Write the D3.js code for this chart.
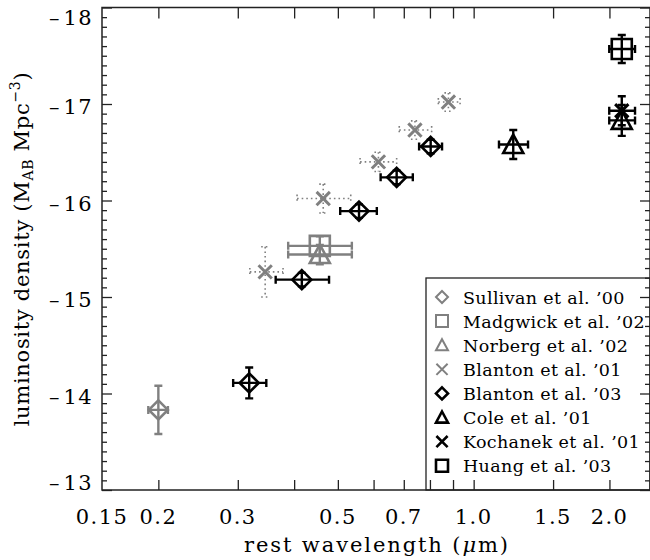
<!DOCTYPE html>
<html><head><meta charset="utf-8">
<script src="https://cdn.jsdelivr.net/npm/d3@7"></script>
<style>body{margin:0;background:#fff} svg{display:block}</style>
</head><body>
<svg id="c" width="650" height="560"></svg>
<script>
// ---------- data ----------
const xTickValues  = [0.2,0.3,0.4,0.5,0.6,0.7,0.8,0.9,1.0,1.5,2.0];
const xLabelValues = [0.15,0.2,0.3,0.5,0.7,1.0,1.5,2.0];
const xLabelTexts  = ["0.15","0.2","0.3","0.5","0.7","1.0","1.5","2.0"];
const yMajorValues = [-18,-17,-16,-15,-14,-13];
const yLabelTexts  = ["18","17","16","15","14","13"];

const sullivanLam = [0.20],  sullivanMag = [-13.83], sullivanLo = [0.19], sullivanHi = [0.21], sullivanErr = [0.25];
const madgwickLam = [0.456], madgwickMag = [-15.53], madgwickLo = [0.388], madgwickHi = [0.537], madgwickErr = [0.10];
const norbergLam  = [0.456], norbergMag  = [-15.44], norbergLo  = [0.388], norbergHi  = [0.537], norbergErr  = [0.10];
const blanton01Lam = [0.345, 0.464, 0.615, 0.741, 0.879];
const blanton01Mag = [-15.26, -16.02, -16.40, -16.73, -17.02];
const blanton01Lo  = [0.319, 0.406, 0.560, 0.684, 0.835];
const blanton01Hi  = [0.378, 0.534, 0.675, 0.807, 0.933];
const blanton01Err = [0.26, 0.15, 0.10, 0.095, 0.095];
const blanton03Lam = [0.318, 0.416, 0.557, 0.675, 0.803];
const blanton03Mag = [-14.11, -15.18, -15.89, -16.24, -16.56];
const blanton03Lo  = [0.293, 0.364, 0.506, 0.622, 0.757];
const blanton03Hi  = [0.347, 0.478, 0.610, 0.733, 0.851];
const blanton03Err = [0.16, 0.07, 0.07, 0.07, 0.07];
const coleLam = [1.224, 2.13], coleMag = [-16.58, -16.83], coleLo = [1.138, 1.998], coleHi = [1.32, 2.279], coleErr = [0.15, 0.16];
const kochanekLam = [2.13], kochanekMag = [-16.93], kochanekLo = [1.998], kochanekHi = [2.279], kochanekErr = [0.15];
const huangLam = [2.13], huangMag = [-17.57], huangLo = [1.998], huangHi = [2.279], huangErr = [0.145];

const legendLabels = ["Sullivan et al. \u201900","Madgwick et al. \u201902","Norberg et al. \u201902","Blanton et al. \u201901",
                      "Blanton et al. \u201903","Cole et al. \u201901","Kochanek et al. \u201901","Huang et al. \u201903"];

// ---------- setup ----------
const GRAY = "#808080", BLACK = "#000";
const FONT = "DejaVu Serif";
const L = 102, R = 650, T = 7.5, B = 490;
const svg = d3.select("#c");
const x = d3.scaleLog().domain([0.15, 2.46]).range([L, R]);
const y = d3.scaleLinear().domain([-18, -13]).range([T, B]);

function zip(lam, mag, lo, hi, err){ return lam.map((l,i)=>({lam:l, mag:mag[i], lo:lo[i], hi:hi[i], err:err[i]})); }

const series = [
  {name:legendLabels[0], d:zip(sullivanLam,sullivanMag,sullivanLo,sullivanHi,sullivanErr), sym:"diamond", color:GRAY, dotted:false},
  {name:legendLabels[1], d:zip(madgwickLam,madgwickMag,madgwickLo,madgwickHi,madgwickErr), sym:"square", color:GRAY, dotted:false},
  {name:legendLabels[2], d:zip(norbergLam,norbergMag,norbergLo,norbergHi,norbergErr), sym:"triangle", color:GRAY, dotted:false},
  {name:legendLabels[3], d:zip(blanton01Lam,blanton01Mag,blanton01Lo,blanton01Hi,blanton01Err), sym:"x", color:GRAY, dotted:true},
  {name:legendLabels[4], d:zip(blanton03Lam,blanton03Mag,blanton03Lo,blanton03Hi,blanton03Err), sym:"diamond", color:BLACK, dotted:false},
  {name:legendLabels[5], d:zip(coleLam,coleMag,coleLo,coleHi,coleErr), sym:"triangle", color:BLACK, dotted:false},
  {name:legendLabels[6], d:zip(kochanekLam,kochanekMag,kochanekLo,kochanekHi,kochanekErr), sym:"x", color:BLACK, dotted:false},
  {name:legendLabels[7], d:zip(huangLam,huangMag,huangLo,huangHi,huangErr), sym:"square", color:BLACK, dotted:false}
];

function symbolPath(sym, s){
  if (sym==="diamond") return `M0,${-s}L${s},0L0,${s}L${-s},0Z`;
  if (sym==="square") return `M${-s},${-s}H${s}V${s}H${-s}Z`;
  if (sym==="triangle") return `M0,${-s}L${s},${s*0.85}L${-s},${s*0.85}Z`;
  if (sym==="x") { const k=s*0.7; return `M${-k},${-k}L${k},${k}M${-k},${k}L${k},${-k}`; }
}
const symSize = {diamond:9.5, square:10, triangle:10, x:9.5};

// ---------- frame & axes ----------
const axG = svg.append("g");
function styleAxis(g){ g.select(".domain").remove(); g.selectAll(".tick line").attr("stroke","#222").attr("stroke-width",1.3); g.selectAll(".tick text").remove(); }
axG.append("g").attr("transform",`translate(0,${B})`).call(d3.axisBottom(x).tickValues(xTickValues).tickSize(-10).tickFormat("")).call(styleAxis);
axG.append("g").attr("transform",`translate(0,${T})`).call(d3.axisTop(x).tickValues(xTickValues).tickSize(-11).tickFormat("")).call(styleAxis);
const yMinor = d3.range(-179,-130,1).map(v=>v/10).filter(v=>!yMajorValues.includes(v));
axG.append("g").attr("transform",`translate(${L},0)`).call(d3.axisLeft(y).tickValues(yMajorValues).tickSize(-10).tickFormat("")).call(styleAxis);
axG.append("g").attr("transform",`translate(${L},0)`).call(d3.axisLeft(y).tickValues(yMinor).tickSize(-5).tickFormat("")).call(styleAxis);
axG.append("g").attr("transform",`translate(${R},0)`).call(d3.axisRight(y).tickValues(yMajorValues).tickSize(-10).tickFormat("")).call(styleAxis);
axG.append("g").attr("transform",`translate(${R},0)`).call(d3.axisRight(y).tickValues(yMinor).tickSize(-5).tickFormat("")).call(styleAxis);
svg.append("rect").attr("x",L).attr("y",T).attr("width",R-L).attr("height",B-T)
  .attr("fill","none").attr("stroke","#222").attr("stroke-width",1.5);

// tick labels
svg.append("g").selectAll("text").data(xLabelValues).join("text")
  .attr("x",d=>x(d)).attr("y",524).attr("text-anchor","middle")
  .attr("font-family",FONT).attr("font-size",21).attr("letter-spacing",1.4).attr("fill","#000")
  .text((d,i)=>xLabelTexts[i]);
const yl = svg.append("g").selectAll("text").data(yMajorValues).join("text")
  .attr("x",93).attr("y",d=>Math.max(T+10, Math.min(B-7.5, y(d)+2.5))+7.5)
  .attr("text-anchor","end").attr("font-family",FONT).attr("font-size",21).attr("fill","#000");
yl.append("tspan").text("\u2013");
yl.append("tspan").attr("dx",4).attr("letter-spacing",1.4).text((d,i)=>yLabelTexts[i]);

// axis titles
const xt = svg.append("text").attr("x",376).attr("y",552).attr("text-anchor","middle")
  .attr("font-family",FONT).attr("font-size",21).attr("fill","#000")
  .attr("textLength",264).attr("lengthAdjust","spacing");
xt.append("tspan").text("rest wavelength (");
xt.append("tspan").attr("font-style","italic").text("\u03bc");
xt.append("tspan").text("m)");
const yt = svg.append("text").attr("transform","translate(29,249) rotate(-90)").attr("text-anchor","middle")
  .attr("font-family",FONT).attr("font-size",21).attr("letter-spacing",0.7).attr("fill","#000");
yt.append("tspan").text("luminosity density (M");
yt.append("tspan").attr("font-size",14).attr("dy",4).text("AB");
yt.append("tspan").attr("dy",-4).text(" Mpc");
yt.append("tspan").attr("font-size",14).attr("dy",-9).text("\u22123");
yt.append("tspan").attr("dy",9).text(")");

// ---------- legend ----------
const lg = svg.append("g");
lg.append("rect").attr("x",426).attr("y",278).attr("width",R-426).attr("height",B-278)
  .attr("fill","none").attr("stroke","#222").attr("stroke-width",1.3);
series.forEach((s,i)=>{
  const cy = 297 + i*24.1;
  lg.append("path").attr("transform",`translate(442,${cy})`).attr("d",symbolPath(s.sym, s.sym==="x"?8:6))
    .attr("fill","none").attr("stroke",s.color).attr("stroke-width",s.color===BLACK?2.6:2);
  lg.append("text").attr("x",463).attr("y",cy+6.5).attr("font-family",FONT).attr("font-size",17.5)
    .attr("letter-spacing",0.35).attr("fill","#000").text(s.name);
});

// ---------- data ----------
const cap = 4;
series.forEach(s=>{
  const g = svg.append("g").attr("stroke",s.color).attr("fill","none")
     .attr("stroke-width", s.dotted?1.6:2.4).attr("stroke-dasharray", s.dotted?"1.6,3":null);
  const p = g.selectAll("g").data(s.d).join("g");
  p.append("path").attr("d",d=>{
    const x0=x(d.lo), x1=x(d.hi), yy=y(d.mag);
    return `M${x0},${yy}H${x1}M${x0},${yy-cap}V${yy+cap}M${x1},${yy-cap}V${yy+cap}`;
  });
  p.append("path").attr("d",d=>{
    const y0=y(d.mag-d.err), y1=y(d.mag+d.err), xx=x(d.lam);
    return `M${xx},${y0}V${y1}M${xx-cap},${y0}H${xx+cap}M${xx-cap},${y1}H${xx+cap}`;
  });
  svg.append("g").selectAll("path").data(s.d).join("path")
    .attr("transform",d=>`translate(${x(d.lam)},${y(d.mag)})`)
    .attr("d",symbolPath(s.sym, symSize[s.sym]))
    .attr("fill","none").attr("stroke",s.color).attr("stroke-width",s.sym==="x"?3:2.6);
});
</script>
</body></html>
